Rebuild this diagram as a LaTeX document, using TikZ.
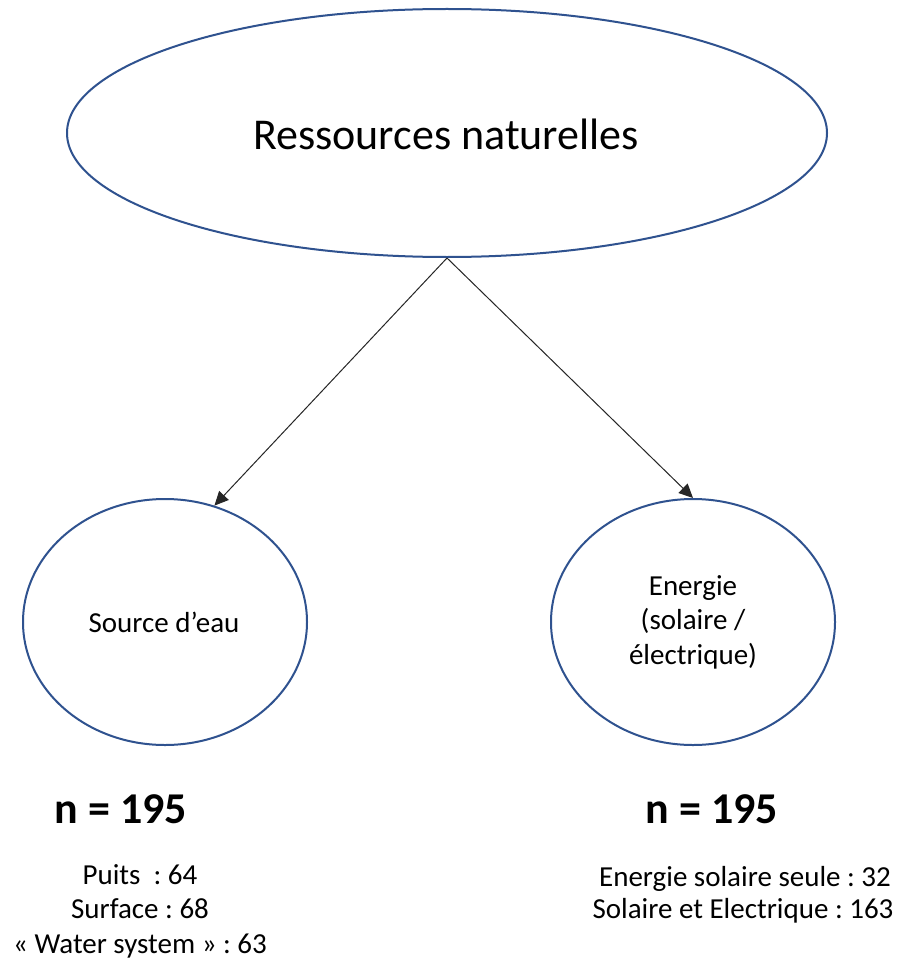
\documentclass[tikz,border=0pt]{standalone}
\usepackage{fontspec}
\setmainfont{Carlito}
\usetikzlibrary{shapes.geometric,arrows.meta}
\definecolor{ringblue}{RGB}{47,82,143}
\tikzset{
  ring/.style={ellipse, draw=ringblue, line width=2pt, inner sep=0pt},
  conn/.style={draw=black!85, line width=1pt, -{Triangle[length=14pt,width=13pt]}},
  bigtxt/.style={font=\fontsize{44}{50}\selectfont},
  midtxt/.style={font=\fontsize{29}{34.5}\selectfont, align=center},
  ntxt/.style={font=\fontsize{44}{50}\selectfont\bfseries},
}
\begin{document}
\frenchspacing
\begin{tikzpicture}[x=1pt,y=-1pt]
\useasboundingbox (0,0) rectangle (898,960);
\fill[white] (0,0) rectangle (898,960);
\node[ring, minimum width=760pt, minimum height=248pt] (top) at (447,133) {};
\node[bigtxt, anchor=base] (toptxt) at (446,150) {Ressources naturelles};
\node[ring, minimum width=284pt, minimum height=246pt] (left) at (165,622) {};
\node[ring, minimum width=284pt, minimum height=246pt] (right) at (693,622) {};
\node[midtxt, anchor=base] (lefttxt) at (164,632) {Source d’eau};
\node[midtxt] (righttxt) at (693,622) {Energie\\(solaire /\\électrique)};
\draw[conn] (top.south) -- (left.67);
\draw[conn] (top.south) -- (right.north);
\node[ntxt, anchor=base] (nleft) at (121,823) {n = 195};
\node[ntxt, anchor=base] (nright) at (712,823) {n = 195};
\node[midtxt, anchor=base] (l1) at (140,884) {Puits\ \ : 64};
\node[midtxt, anchor=base] (l2) at (140,918) {Surface : 68};
\node[midtxt, anchor=base] (l3) at (140,953) {« Water system » : 63};
\node[midtxt, anchor=base] (r1) at (745,886) {Energie solaire seule : 32};
\node[midtxt, anchor=base] (r2) at (743,918) {Solaire et Electrique : 163};
\end{tikzpicture}
\end{document}
